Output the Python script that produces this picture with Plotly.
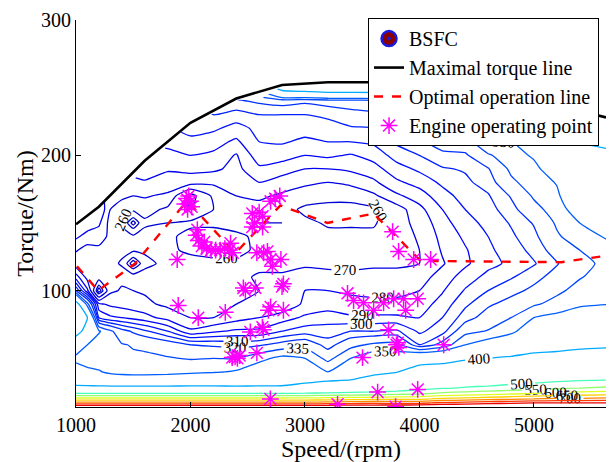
import numpy as np
import plotly.graph_objects as go

# ---------------- data ----------------
speeds = [1000, 1100, 1200, 1300, 1400, 1500, 1600, 1800, 2000, 2200, 2400, 2600, 2800,
          3000, 3200, 3400, 3600, 3800, 4000, 4200, 4400, 4600, 4800, 5000, 5200, 5400, 5700]
torques = [14, 17, 20, 24, 28, 34, 40, 50, 60, 70, 80, 90, 100, 110, 120, 130, 140, 150,
           160, 170, 180, 190, 200, 210, 220, 230, 240, 250]

N = None
# BSFC (g/kWh) read per speed column, listed from low to high torque
bsfc_1000 = [850, 720, 620, 500, 410, 380, 360, 345, 365, 420, 480, 420, 320, 285, 264, 271, 282, N, N, N, N, N, N, N, N, N, N, N]
bsfc_1100 = [850, 720, 620, 500, 410, 376, 355, 340, 350, 380, 400, 340, 282, 266, 260, 266, 276, 286, N, N, N, N, N, N, N, N, N, N]
bsfc_1200 = [850, 720, 620, 500, 410, 374, 352, 338, 340, 352, 300, 282, 240, 265, 262, 268, 274, 282, 290, N, N, N, N, N, N, N, N, N]
bsfc_1300 = [850, 720, 620, 500, 410, 368, 345, 338, 336, 338, 292, 278, 268, 270, 265, 268, 268, 266, 270, 276, N, N, N, N, N, N, N, N]
bsfc_1400 = [850, 720, 620, 500, 410, 366, 342, 338, 336, 325, 290, 276, 271, 268, 258, 264, 265, 258, 265, 272, N, N, N, N, N, N, N, N]
bsfc_1500 = [850, 720, 620, 500, 410, 366, 340, 337, 334, 318, 287, 274, 270, 266, 240, 262, 262, 242, 262, 270, 278, N, N, N, N, N, N, N]
bsfc_1600 = [850, 720, 620, 500, 410, 366, 340, 337, 333, 312, 284, 272, 269, 266, 256, 262, 264, 258, 264, 271, 279, 285, N, N, N, N, N, N]
bsfc_1800 = [850, 720, 620, 500, 410, 368, 342, 336, 328, 300, 276, 268, 270, 269, 264, 262, 262, 260, 258, 268, 276, 281, 287, 293, N, N, N, N]
bsfc_2000 = [850, 720, 620, 500, 410, 372, 345, 334, 320, 282, 270, 264, 267, 268, 264, 258, 257, 262, 250, 246, 274, 283, 290, 297, 304, N, N, N]
bsfc_2200 = [850, 720, 620, 500, 410, 372, 348, 335, 318, 288, 270, 263, 266, 268, 263, 256, 256, 262, 260, 262, 272, 282, 288, 294, 302, 310, N, N]
bsfc_2400 = [850, 720, 620, 500, 410, 370, 352, 334, 316, 292, 276, 270, 268, 266, 262, 257, 258, 264, 266, 270, 274, 277, 279, 288, 296, 306, 318, N]
bsfc_2600 = [850, 720, 620, 500, 410, 372, 362, 345, 318, 292, 280, 275, 270, 272, 266, 262, 262, 260, 266, 272, 280, 288, 296, 300, 303, 310, 322, N]
bsfc_2800 = [850, 720, 620, 500, 410, 375, 368, 355, 325, 300, 285, 272, 278, 272, 266, 264, 263, 260, 264, 268, 276, 284, 295, 301, 305, 310, 325, 420]
bsfc_3000 = [850, 720, 620, 505, 415, 390, 372, 350, 330, 305, 292, 282, 280, 275, 268, 265, 263, 262, 258, 265, 272, 280, 290, 298, 304, 310, 322, 430]
bsfc_3200 = [855, 725, 625, 510, 430, 395, 350, 330, 315, 305, 295, 285, 280, 274, 267, 264, 262, 259, 256, 264, 270, 280, 292, 300, 306, 312, 325, 440]
bsfc_3400 = [860, 730, 630, 515, 440, 400, 372, 350, 330, 310, 292, 282, 279, 274, 266, 263, 262, 259, 256, 264, 272, 282, 289, 300, 309, 316, 326, 440]
bsfc_3600 = [860, 735, 635, 520, 450, 415, 390, 362, 338, 310, 292, 282, 278, 274, 268, 264, 262, 259, 258, 268, 278, 286, 294, 302, 310, 318, 328, 440]
bsfc_3800 = [860, 740, 640, 530, 460, 425, 398, 360, 340, 312, 292, 282, 278, 274, 268, 266, 266, 266, 265, 278, 288, 296, 304, 312, 318, 326, 335, 450]
bsfc_4000 = [860, 740, 640, 540, 480, 440, 420, 380, 310, 298, 290, 285, 280, 276, 270, 270, 271, 273, 277, 285, 294, 302, 310, 318, 326, 335, 345, 460]
bsfc_4200 = [870, 760, 660, 560, 495, 460, 430, 380, 325, 306, 300, 294, 289, 284, 279, 281, 283, 286, 290, 296, 302, 309, 317, 326, 338, 352, 375, 470]
bsfc_4400 = [880, 770, 670, 570, 505, 465, 432, 395, 350, 330, 315, 308, 301, 295, 288, 289, 292, 296, 300, 304, 308, 311, 318, 328, 340, 370, 420, N]
bsfc_4600 = [890, 780, 680, 580, 510, 470, 440, 400, 360, 336, 326, 318, 310, 303, 297, 298, 300, 303, 306, 309, 314, 319, 333, 350, 400, 430, 460, N]
bsfc_4800 = [900, 790, 690, 590, 520, 475, 448, 405, 370, 345, 335, 325, 316, 309, 302, 305, 308, 311, 316, 321, 332, 338, 344, 349, 420, 440, 460, N]
bsfc_5000 = [900, 800, 700, 600, 530, 480, 455, 410, 385, 365, 350, 333, 323, 316, 309, 313, 317, 321, 330, 337, 342, 346, 352, 398, 420, 440, 460, N]
bsfc_5200 = [900, 800, 710, 610, 540, 490, 460, 410, 390, 370, 355, 340, 332, 325, 319, 326, 333, 337, 342, 347, 351, 360, 380, 400, 410, 420, N, N]
bsfc_5400 = [900, 800, 710, 620, 550, 495, 465, 415, 393, 375, 358, 348, 340, 334, 331, 335, 343, 350, 360, 368, 376, 384, 394, 401, 410, 420, N, N]
bsfc_5700 = [900, 800, 720, 630, 560, 500, 470, 420, 395, 378, 362, 350, 346, 343, 340, 346, 354, 362, 370, 378, 386, 392, 398, 403, 410, N, N, N]

bsfc_levels = [245, 250, 260, 270, 280, 290, 300, 310, 320, 335, 350, 400,
               500, 550, 600, 650, 700, 750, 800]

max_speed = [1000, 1200, 1600, 2000, 2400, 2800, 3200, 3600, 4000, 4400, 4800, 5200, 5630]
max_torque = [149, 162, 196, 224, 242, 252, 254, 254, 252, 248, 243, 237, 228]

opt_speed = [1009, 1193, 1516, 1928, 1980, 2392, 2786, 3197, 3600, 3941, 4011, 5236, 5613]
opt_torque = [118, 100, 120, 162, 165.5, 127.6, 163, 150, 157, 128, 122, 121, 125.5]

op_speed = [1950, 1965, 1985, 2000, 1975, 2010,
            2050, 2070, 2100, 2140, 2180, 2220, 2260, 2300, 2340, 2370, 2120, 2060, 2350,
            2540, 2600, 2630, 2700, 2740, 2780, 2540, 2630, 2560,
            2640, 2790, 2715, 2580, 2700, 2672,
            3766, 3818, 3950, 4098, 1884,
            1893, 2068, 2304,
            2462, 2567, 2480, 2812, 2800, 2681, 2812, 2700,
            2523, 2628, 2637,
            2365, 2390, 2410, 2430, 2580,
            3372, 3425, 3512, 3600, 3687, 3775, 3862, 3985, 3880, 3730, 3810, 3800, 3820, 4212, 3503,
            3635, 3985, 3285, 3792, 2698]
op_torque = [164, 168, 170, 166, 160, 162,
             141, 137, 133, 131, 130, 130, 130, 131, 130, 128, 136, 145, 135,
             157, 158, 155, 166, 168, 170, 147, 147, 150,
             128, 123, 118, 128, 123, 129,
             143.6, 129, 123, 123, 123,
             89, 80, 84,
             102, 102, 100, 105, 103, 85.5, 85.5, 88,
             69.5, 73, 71,
             50.5, 51, 50, 52, 54,
             98, 92.7, 91, 85.5, 91, 94, 94, 94, 85.5, 71, 61.5, 60, 58, 60, 50.5,
             25, 27, 16, 14.2, 20]

# ---------------- figure ----------------
columns = [bsfc_1000, bsfc_1100, bsfc_1200, bsfc_1300, bsfc_1400, bsfc_1500, bsfc_1600,
           bsfc_1800, bsfc_2000, bsfc_2200, bsfc_2400, bsfc_2600, bsfc_2800, bsfc_3000,
           bsfc_3200, bsfc_3400, bsfc_3600, bsfc_3800, bsfc_4000, bsfc_4200, bsfc_4400,
           bsfc_4600, bsfc_4800, bsfc_5000, bsfc_5200, bsfc_5400, bsfc_5700]
Z = [[col[i] for col in columns] for i in range(len(torques))]


def jet(v, vmin=205.0, vmax=870.0):
    t = (v - vmin) / (vmax - vmin)
    r = min(1, max(0, 1.5 - abs(4 * t - 3)))
    g = min(1, max(0, 1.5 - abs(4 * t - 2)))
    b = min(1, max(0, 1.5 - abs(4 * t - 1)))
    return "rgb(%d,%d,%d)" % (r * 255, g * 255, b * 255)


FONT = "Liberation Serif"
fig = go.Figure()

for lv in bsfc_levels:
    c = jet(lv)
    fig.add_trace(go.Contour(
        x=speeds, y=torques, z=Z,
        contours=dict(start=lv, end=lv, size=1, coloring="none", showlabels=True,
                      labelfont=dict(family=FONT, size=15, color="black")),
        line=dict(color=c, width=1.3, smoothing=0.5),
        showscale=False, showlegend=False, hoverinfo="skip",
    ))

# legend entry for BSFC
fig.add_trace(go.Scatter(
    x=[None], y=[None], mode="markers", name="BSFC",
    marker=dict(symbol="circle-dot", size=15, color="#8b0000",
                line=dict(color="#1a1adf", width=2.5)),
))
fig.add_trace(go.Scatter(
    x=max_speed, y=max_torque, mode="lines", name="Maximal torque line",
    line=dict(color="black", width=2.6),
))
fig.add_trace(go.Scatter(
    x=opt_speed, y=opt_torque, mode="lines", name="Optimal operation line",
    line=dict(color="#ff0000", width=2.4, dash="dash"),
))
fig.add_trace(go.Scatter(
    x=op_speed, y=op_torque, mode="markers", name="Engine operating point",
    marker=dict(symbol="asterisk-open", size=14, color="#ff00ff",
                line=dict(color="#ff00ff", width=1.5)),
))

fig.update_layout(
    width=611, height=462,
    margin=dict(l=76, r=5, t=20, b=49),
    paper_bgcolor="white", plot_bgcolor="white",
    font=dict(family=FONT, size=20, color="black"),
    showlegend=True,
    legend=dict(x=0.551, y=1.005, xanchor="left", yanchor="top",
                bgcolor="white", bordercolor="black", borderwidth=1,
                font=dict(family=FONT, size=20), tracegroupgap=0,
                itemwidth=30),
    xaxis=dict(range=[1000, 5630], tickvals=[1000, 2000, 3000, 4000, 5000],
               showline=True, linecolor="black", linewidth=1, showgrid=False,
               zeroline=False, ticks="inside", ticklen=5, tickcolor="black",
               title=dict(text="Speed/(rpm)", standoff=4),
               tickfont=dict(family=FONT, size=20)),
    yaxis=dict(range=[14, 300], tickvals=[100, 200, 300],
               showline=True, linecolor="black", linewidth=1, showgrid=False,
               zeroline=False, ticks="inside", ticklen=5, tickcolor="black",
               title=dict(text="Torque/(Nm)", standoff=0),
               tickfont=dict(family=FONT, size=20)),
)

fig.write_html("out.html")
